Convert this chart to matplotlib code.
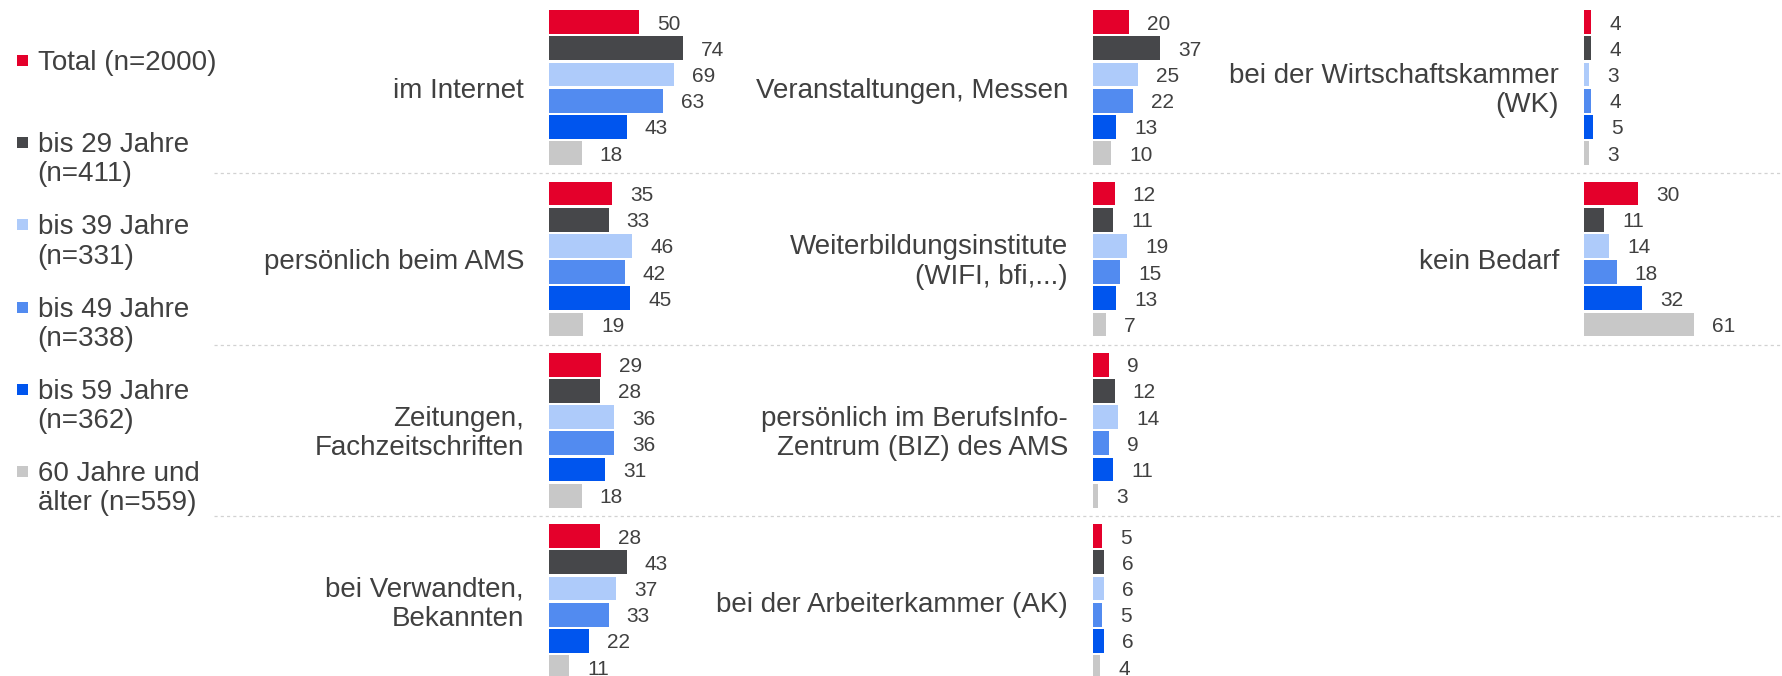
import matplotlib
matplotlib.use("Agg")
import matplotlib.pyplot as plt
from matplotlib.patches import Rectangle
import matplotlib.transforms as mtransforms

# ---------------- data ----------------
series_labels = ["Total (n=2000)", "bis 29 Jahre\n(n=411)", "bis 39 Jahre\n(n=331)",
                 "bis 49 Jahre\n(n=338)", "bis 59 Jahre\n(n=362)", "60 Jahre und\nälter (n=559)"]
series_colors = ["#E4002B", "#46474A", "#AECBFA", "#528BF0", "#0055EE", "#C8C8C8"]

col1_categories = ["im Internet", "persönlich beim AMS", "Zeitungen,\nFachzeitschriften",
                   "bei Verwandten,\nBekannten"]
col2_categories = ["Veranstaltungen, Messen", "Weiterbildungsinstitute\n(WIFI, bfi,...)",
                   "persönlich im BerufsInfo-\nZentrum (BIZ) des AMS", "bei der Arbeiterkammer (AK)"]
col3_categories = ["bei der Wirtschaftskammer\n(WK)", "kein Bedarf"]

# values in order: Total, bis 29, bis 39, bis 49, bis 59, 60+
im_internet = [50, 74, 69, 63, 43, 18]
persoenlich_ams = [35, 33, 46, 42, 45, 19]
zeitungen = [29, 28, 36, 36, 31, 18]
verwandte = [28, 43, 37, 33, 22, 11]
veranstaltungen = [20, 37, 25, 22, 13, 10]
weiterbildung = [12, 11, 19, 15, 13, 7]
biz = [9, 12, 14, 9, 11, 3]
arbeiterkammer = [5, 6, 6, 5, 6, 4]
wirtschaftskammer = [4, 4, 3, 4, 5, 3]
kein_bedarf = [30, 11, 14, 18, 32, 61]

col1_values = [im_internet, persoenlich_ams, zeitungen, verwandte]
col2_values = [veranstaltungen, weiterbildung, biz, arbeiterkammer]
col3_values = [wirtschaftskammer, kein_bedarf]

# ---------------- layout ----------------
W, H = 1782, 676
DPI = 100
TEXT = "#404040"
FONT = "Liberation Sans"
plt.rcParams["font.family"] = [FONT, "DejaVu Sans"]

PX_PER_UNIT = 1.807
TOP = 2.0
ROW_PITCH = 171.3
BAR_PITCH = 26.2
BAR_H = 23.8
AXW = 190
col_lefts = [549, 1093, 1584]
LABEL_GAP = 25
VALUE_GAP = 18
LINESP = 1.16

fig = plt.figure(figsize=(W / DPI, H / DPI), dpi=DPI)
fig.patch.set_facecolor("white")

# overlay axes in pixel coordinates for legend & separators
ov = fig.add_axes([0, 0, 1, 1])
ov.set_xlim(0, W)
ov.set_ylim(H, 0)
ov.axis("off")

for i in range(3):
    ysep = TOP + (i + 1) * ROW_PITCH
    ov.plot([214, W], [ysep, ysep], color="#D2D2D2", lw=0.9, ls=(0, (2.5, 2.5)), zorder=0)

# legend
LEG_BASE = 70.5
LEG_PITCH = 82.2
ASC = 20.5
for i, (lab, col) in enumerate(zip(series_labels, series_colors)):
    yb = LEG_BASE + i * LEG_PITCH
    ov.add_patch(Rectangle((17, yb - 10 - 5.5), 11, 11, facecolor=col, edgecolor="none"))
    ov.text(37.5, yb - ASC, lab, ha="left", va="top", fontsize=20, color=TEXT,
            linespacing=LINESP)

# bars
columns = [(col1_categories, col1_values), (col2_categories, col2_values),
           (col3_categories, col3_values)]
for left, (cats, vals) in zip(col_lefts, columns):
    ax = fig.add_axes([left / W, 0, AXW / W, 1])
    ax.set_xlim(0, AXW / PX_PER_UNIT)
    ax.set_ylim(H, 0)
    ax.axis("off")
    lab_tr = mtransforms.offset_copy(ax.transData, fig=fig, x=-LABEL_GAP, y=-3, units="dots")
    for r, (cat, v) in enumerate(zip(cats, vals)):
        yc = TOP + (r + 0.5) * ROW_PITCH
        ys = [yc + (j - 2.5) * BAR_PITCH for j in range(len(v))]
        ax.barh(ys, v, height=BAR_H, color=series_colors, edgecolor="none")
        for y, val in zip(ys, v):
            ax.annotate(f"{val}", xy=(val, y), xytext=(VALUE_GAP, 0),
                        textcoords="offset pixels", ha="left", va="center_baseline",
                        fontsize=15, color=TEXT, annotation_clip=False)
        ax.text(0, yc, cat, transform=lab_tr, ha="right", va="center",
                multialignment="right", fontsize=20, color=TEXT, linespacing=LINESP)

fig.savefig("out.png", dpi=DPI, facecolor="white")
